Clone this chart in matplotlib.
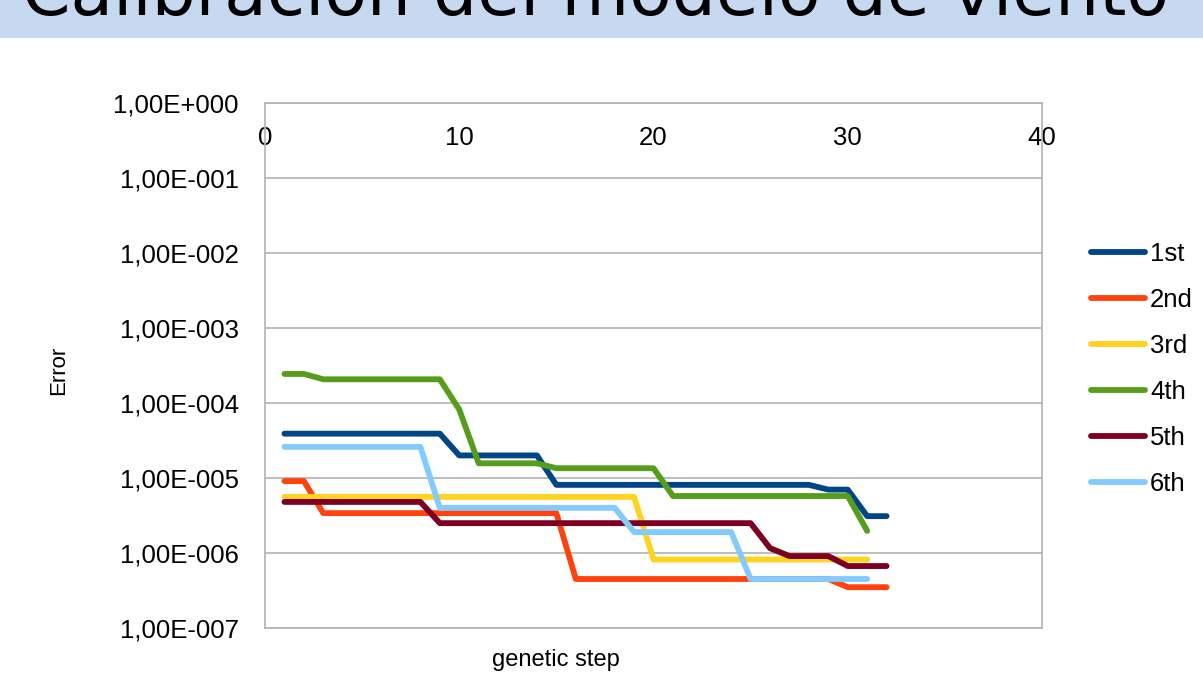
import matplotlib
matplotlib.use("Agg")
import matplotlib.pyplot as plt
from matplotlib.ticker import FixedLocator, FuncFormatter, NullLocator
import numpy as np

plt.rcParams['font.family'] = ['Liberation Sans', 'DejaVu Sans']

# error of each run per genetic step
names = ["1st", "2nd", "3rd", "4th", "5th", "6th"]
colors = ["#004586", "#ff420e", "#ffd320", "#579d1c", "#7e0021", "#83caff"]

err_1st = [3.9e-5, 3.9e-5, 3.9e-5, 3.9e-5, 3.9e-5, 3.9e-5, 3.9e-5, 3.9e-5, 3.9e-5,
           2.0e-5, 2.0e-5, 2.0e-5, 2.0e-5, 2.0e-5,
           8.1e-6, 8.1e-6, 8.1e-6, 8.1e-6, 8.1e-6, 8.1e-6, 8.1e-6, 8.1e-6, 8.1e-6,
           8.1e-6, 8.1e-6, 8.1e-6, 8.1e-6, 8.1e-6,
           7.0e-6, 7.0e-6, 3.1e-6, 3.1e-6]
err_2nd = [9.1e-6, 9.1e-6,
           3.4e-6, 3.4e-6, 3.4e-6, 3.4e-6, 3.4e-6, 3.4e-6, 3.4e-6, 3.4e-6, 3.4e-6,
           3.4e-6, 3.4e-6, 3.4e-6, 3.4e-6,
           4.5e-7, 4.5e-7, 4.5e-7, 4.5e-7, 4.5e-7, 4.5e-7, 4.5e-7, 4.5e-7, 4.5e-7,
           4.5e-7, 4.5e-7, 4.5e-7, 4.5e-7, 4.5e-7,
           3.5e-7, 3.5e-7, 3.5e-7]
err_3rd = [5.6e-6, 5.6e-6, 5.6e-6, 5.6e-6, 5.6e-6, 5.6e-6, 5.6e-6, 5.6e-6, 5.6e-6,
           5.6e-6, 5.6e-6, 5.6e-6, 5.6e-6, 5.6e-6, 5.6e-6, 5.6e-6, 5.6e-6, 5.6e-6,
           5.6e-6,
           8.2e-7, 8.2e-7, 8.2e-7, 8.2e-7, 8.2e-7, 8.2e-7, 8.2e-7, 8.2e-7, 8.2e-7,
           8.2e-7, 8.2e-7, 8.2e-7]
err_4th = [2.44e-4, 2.44e-4,
           2.07e-4, 2.07e-4, 2.07e-4, 2.07e-4, 2.07e-4, 2.07e-4, 2.07e-4,
           8.2e-5,
           1.57e-5, 1.57e-5, 1.57e-5, 1.57e-5,
           1.35e-5, 1.35e-5, 1.35e-5, 1.35e-5, 1.35e-5, 1.35e-5,
           5.75e-6, 5.75e-6, 5.75e-6, 5.75e-6, 5.75e-6, 5.75e-6, 5.75e-6, 5.75e-6,
           5.75e-6, 5.75e-6,
           1.97e-6]
err_5th = [4.8e-6, 4.8e-6, 4.8e-6, 4.8e-6, 4.8e-6, 4.8e-6, 4.8e-6, 4.8e-6,
           2.5e-6, 2.5e-6, 2.5e-6, 2.5e-6, 2.5e-6, 2.5e-6, 2.5e-6, 2.5e-6, 2.5e-6,
           2.5e-6, 2.5e-6, 2.5e-6, 2.5e-6, 2.5e-6, 2.5e-6, 2.5e-6, 2.5e-6,
           1.16e-6,
           9.1e-7, 9.1e-7, 9.1e-7,
           6.7e-7, 6.7e-7, 6.7e-7]
err_6th = [2.6e-5, 2.6e-5, 2.6e-5, 2.6e-5, 2.6e-5, 2.6e-5, 2.6e-5, 2.6e-5,
           4.0e-6, 4.0e-6, 4.0e-6, 4.0e-6, 4.0e-6, 4.0e-6, 4.0e-6, 4.0e-6, 4.0e-6,
           4.0e-6,
           1.9e-6, 1.9e-6, 1.9e-6, 1.9e-6, 1.9e-6, 1.9e-6,
           4.5e-7, 4.5e-7, 4.5e-7, 4.5e-7, 4.5e-7, 4.5e-7, 4.5e-7]

series = [err_1st, err_2nd, err_3rd, err_4th, err_5th, err_6th]

x_ticks = [0, 10, 20, 30, 40]
y_ticks = [1e0, 1e-1, 1e-2, 1e-3, 1e-4, 1e-5, 1e-6, 1e-7]

fig = plt.figure(figsize=(12.03, 6.74), dpi=100)

# slide title band
fig.patches.append(plt.Rectangle((0, 1 - 38 / 674), 1, 38 / 674, transform=fig.transFigure,
                                 facecolor="#c6d9f1", edgecolor="none", zorder=0))
fig.text(0.495, 1 - 15 / 674, "Calibración del modelo de viento", ha="center", va="baseline",
         fontsize=50, family="DejaVu Sans", color="black")

ax = fig.add_axes([265 / 1203, 46 / 674, 777 / 1203, 525 / 674])

for vals, name, col in zip(series, names, colors):
    steps = np.arange(1, len(vals) + 1)
    ax.plot(steps, vals, color=col, lw=4.2, label=name,
            solid_capstyle="round", solid_joinstyle="round")

ax.set_yscale("log")
ax.set_ylim(1e-7, 1e0)
ax.set_xlim(0, 40)
ax.yaxis.set_major_locator(FixedLocator(y_ticks))
ax.yaxis.set_minor_locator(NullLocator())


def sci_label(v, pos):
    e = int(round(np.log10(v)))
    sign = "+" if e >= 0 else "-"
    return "1,00E%s%03d" % (sign, abs(e))


ax.yaxis.set_major_formatter(FuncFormatter(sci_label))
ax.xaxis.set_major_locator(FixedLocator(x_ticks))

ax.grid(axis="y", color="#b3b3b3", lw=1.2)
ax.grid(axis="x", visible=False)
for sp in ax.spines.values():
    sp.set_color("#b3b3b3")
    sp.set_linewidth(1.2)

# x labels sit under the top edge, where the axis crosses at 1
ax.tick_params(axis="x", length=0, labelsize=18.5, labeltop=True, labelbottom=False,
               pad=-33.5)
ax.tick_params(axis="y", length=0, labelsize=18.5, pad=19)

ax.set_ylabel("Error", fontsize=16)
ax.yaxis.set_label_coords(-0.266, 0.491)
ax.set_xlabel("genetic step", fontsize=17)
ax.xaxis.set_label_coords(0.3745, -0.061)
ax.xaxis.label.set_va("center")
ax.yaxis.label.set_va("center")

fig.legend(loc="center left", bbox_to_anchor=(1091 / 1203, 1 - 369 / 674), frameon=False,
           fontsize=18.5, handlelength=2.1, handletextpad=0.2, labelspacing=0.86,
           borderpad=0, borderaxespad=0)

fig.savefig("out.png", dpi=100)
